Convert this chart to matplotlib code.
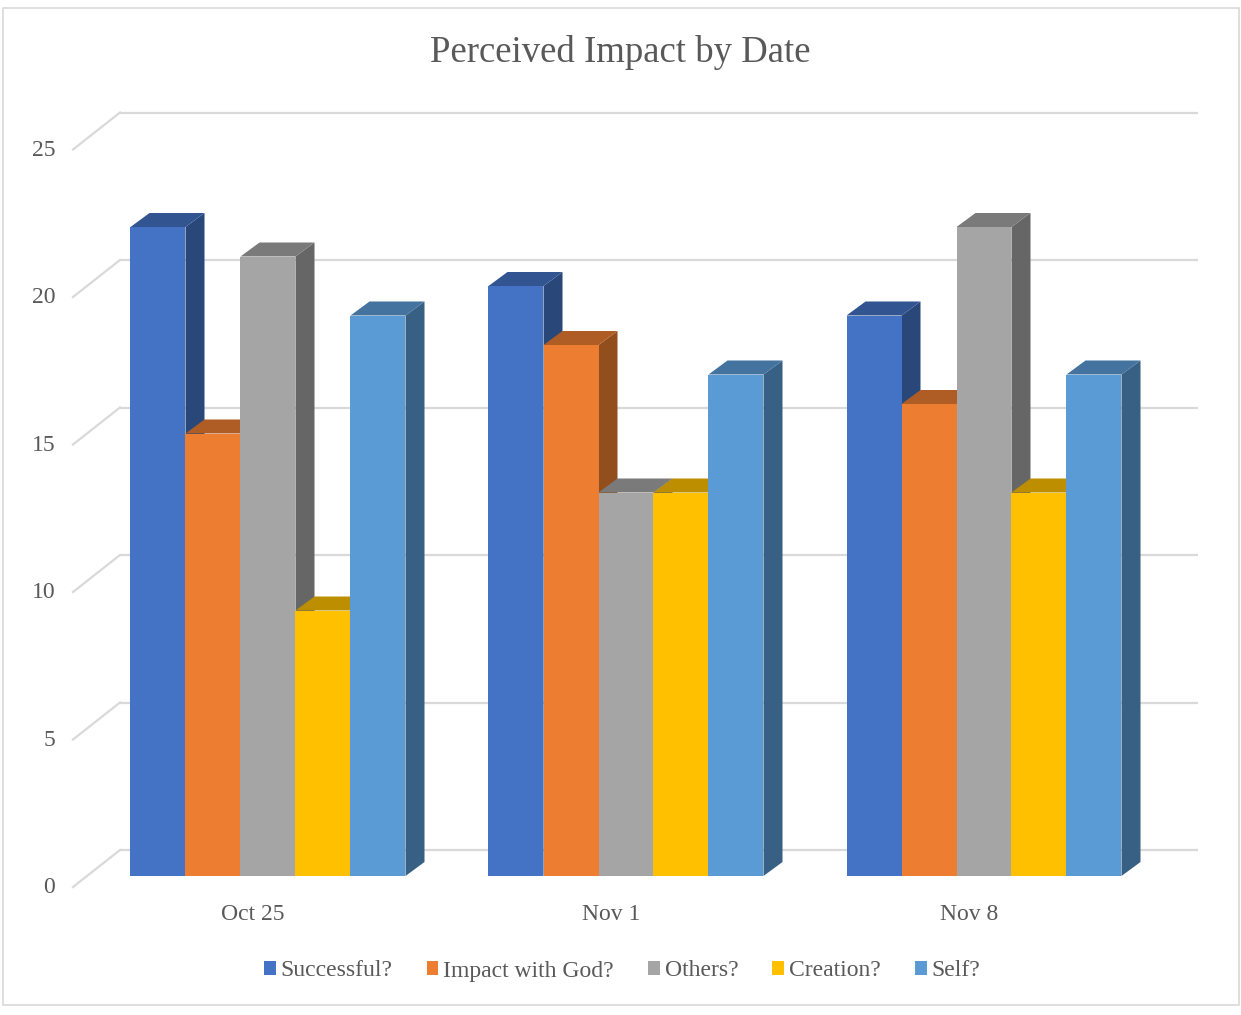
import numpy as np
import matplotlib.pyplot as plt
from matplotlib.patches import Polygon, Patch, Rectangle
from matplotlib.colors import to_rgb

dates = ['Oct 25', 'Nov 1', 'Nov 8']
series = ['Successful?', 'Impact with God?', 'Others?', 'Creation?', 'Self?']
values = {
    'Successful?':      [22, 20, 19],
    'Impact with God?': [15, 18, 16],
    'Others?':          [21, 13, 22],
    'Creation?':        [9, 13, 13],
    'Self?':            [19, 17, 17],
}
colors = ['#4472C4', '#ED7D31', '#A5A5A5', '#FFC000', '#5B9BD5']
yticks = [0, 5, 10, 15, 20, 25]

W, H = 1241, 1015
PX_X = 358.0    # pixels per category
PX_Y = 29.5     # pixels per value unit
X0, Y0 = 268, 139   # pixel of (group 0 centre, value 0), from bottom-left

plt.rcParams['font.family'] = ['Liberation Serif', 'DejaVu Serif']
TXT = '#595959'

fig = plt.figure(figsize=(W / 100, H / 100), dpi=100)
ax = fig.add_axes([0, 0, 1, 1])
ax.set_xlim(-X0 / PX_X, (W - X0) / PX_X)
ax.set_ylim(-Y0 / PX_Y, (H - Y0) / PX_Y)
ax.axis('off')

# depth offsets in data units
bw = 55 / PX_X
ddx, ddy = 19 / PX_X, 14 / PX_Y
back_dy = 26 / PX_Y
wall_x0, wall_x1 = 120 / PX_X - X0 / PX_X, (1198 - X0) / PX_X
diag_x = (73 - X0) / PX_X
diag_dy = 37 / PX_Y

# back wall grid + left floor diagonals
for v in yticks:
    yb = v + back_dy
    ax.plot([wall_x0, wall_x1], [yb, yb], color='#d9d9d9', lw=1.6, zorder=1,
            solid_capstyle='butt')
    ax.plot([diag_x, wall_x0], [yb - diag_dy, yb], color='#d9d9d9', lw=1.6,
            zorder=1)
    ax.text(diag_x - 0.05, yb - diag_dy - 0.02, str(v), ha='right',
            va='center', fontsize=17, color=TXT)


def shade(c, f):
    r, g, b = to_rgb(c)
    return (r * f, g * f, b * f)


z = 2
for gi in range(len(dates)):
    for si, name in enumerate(series):
        v = values[name][gi]
        left = gi - 2.5 * bw + si * bw
        right = left + bw
        c = colors[si]
        side = Polygon([(right, 0), (right + ddx, ddy), (right + ddx, v + ddy),
                        (right, v)], closed=True, fc=shade(c, 0.62), ec='none',
                       zorder=z)
        top = Polygon([(left, v), (right, v), (right + ddx, v + ddy),
                       (left + ddx, v + ddy)], closed=True, fc=shade(c, 0.74),
                      ec='none', zorder=z)
        ax.add_patch(side)
        ax.add_patch(top)
        ax.bar(left, v, width=bw, align='edge', color=c, zorder=z + 0.5,
               linewidth=0)
        z += 1

for gi, d in enumerate(dates):
    ax.text(gi - 15 / PX_X, -39 / PX_Y, d, ha='center', va='center',
            fontsize=17, color=TXT)

fig.text(0.5, 1 - 53 / H, 'Perceived Impact by Date', ha='center',
         va='center', fontsize=26.5, color=TXT)

handles = [Patch(facecolor=c, edgecolor='none', label=s)
           for c, s in zip(colors, series)]
fig.legend(handles=handles, loc='center', bbox_to_anchor=(622 / W, 1 - 971 / H),
           ncol=5, frameon=False, fontsize=17, handlelength=0.5,
           handleheight=0.5, handletextpad=0.2, columnspacing=1.45,
           labelcolor=TXT)

fig.add_artist(Rectangle((3 / W, 1 - 1005 / H), 1236 / W, 997 / H,
                         transform=fig.transFigure, fill=False,
                         ec='#d9d9d9', lw=1.2))

fig.savefig('out.png', dpi=100, facecolor='white')
